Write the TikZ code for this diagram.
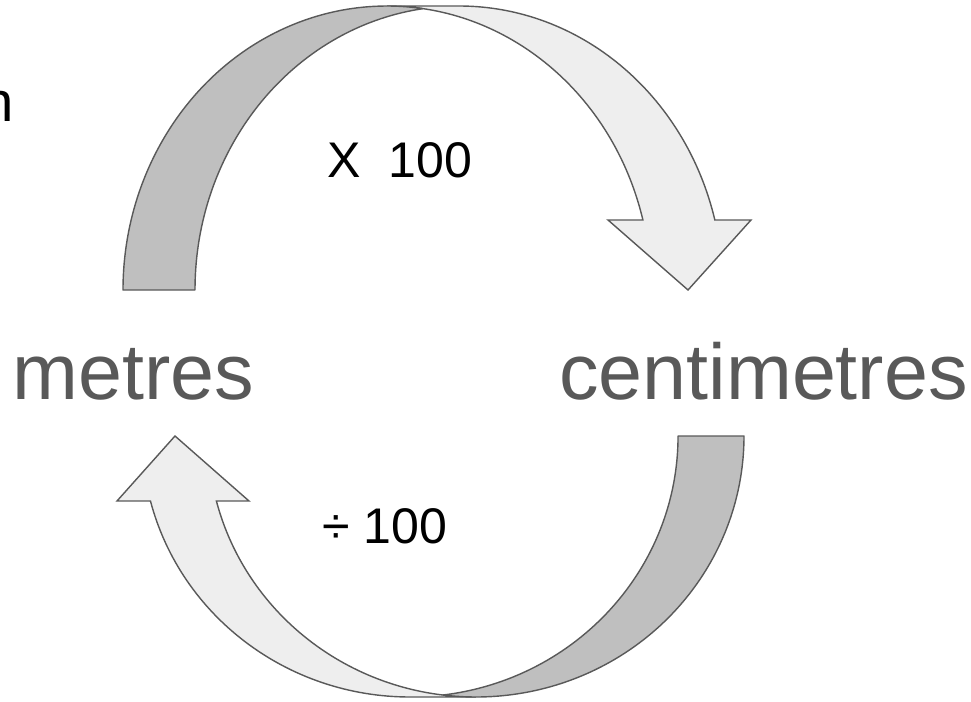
\documentclass[tikz,border=0pt]{standalone}
\usepackage{fontspec}
\setmainfont{Liberation Sans}
\definecolor{edgegrey}{HTML}{595959}
\definecolor{backgrey}{HTML}{BFBFBF}
\definecolor{frontgrey}{HTML}{EEEEEE}
\definecolor{wordgrey}{HTML}{595959}
\tikzset{
  back band/.style={fill=backgrey, draw=edgegrey, line width=0.8pt, line join=round},
  front band/.style={fill=frontgrey, draw=edgegrey, line width=0.8pt},
  unit word/.style={text=wordgrey, font=\fontsize{45}{54}\selectfont, inner sep=0pt, anchor=base},
  factor/.style={font=\fontsize{28.5}{34}\selectfont, inner sep=0pt, anchor=base}
}

\begin{document}
\begin{tikzpicture}[x=0.02cm,y=0.02cm]
\useasboundingbox (0,0) rectangle (971,701);
% upper arrow, metres to centimetres
\draw[front band] (608,481)--(642.9,481)
  arc[start angle=14.27,end angle=90,x radius=264,y radius=284]
  --(459,695)
  arc[start angle=90,end angle=14.27,x radius=264,y radius=284]
  --(751,481)--(688,411)--cycle;
\draw[back band] (123,411)
  arc[start angle=180,end angle=82.16,x radius=264,y radius=284]
  arc[start angle=97.84,end angle=180,x radius=264,y radius=284]
  --cycle;
% lower arrow, centimetres to metres
\draw[front band] (249,200)--(216.4,200)
  arc[start angle=194.42,end angle=270,x radius=268,y radius=261]
  --(410,4)
  arc[start angle=270,end angle=194.42,x radius=268,y radius=261]
  --(117,200)--(175,265)--cycle;
\draw[back band] (744,265)
  arc[start angle=0,end angle=-97.07,x radius=268,y radius=261]
  arc[start angle=-82.93,end angle=0,x radius=268,y radius=261]
  --cycle;
% labels
\node (metres) at (133.5,302) [unit word]{metres};
\node (centimetres) at (763.5,302) [unit word]{centimetres};
\node (times) at (400,523) [factor]{X\ \ 100};
\node (divide) at (385,158) [factor]{÷ 100};
\node (cut) at (-18,579) [anchor=base west, inner sep=0pt, font=\fontsize{32}{38}\selectfont]{n};
\end{tikzpicture}
\end{document}
